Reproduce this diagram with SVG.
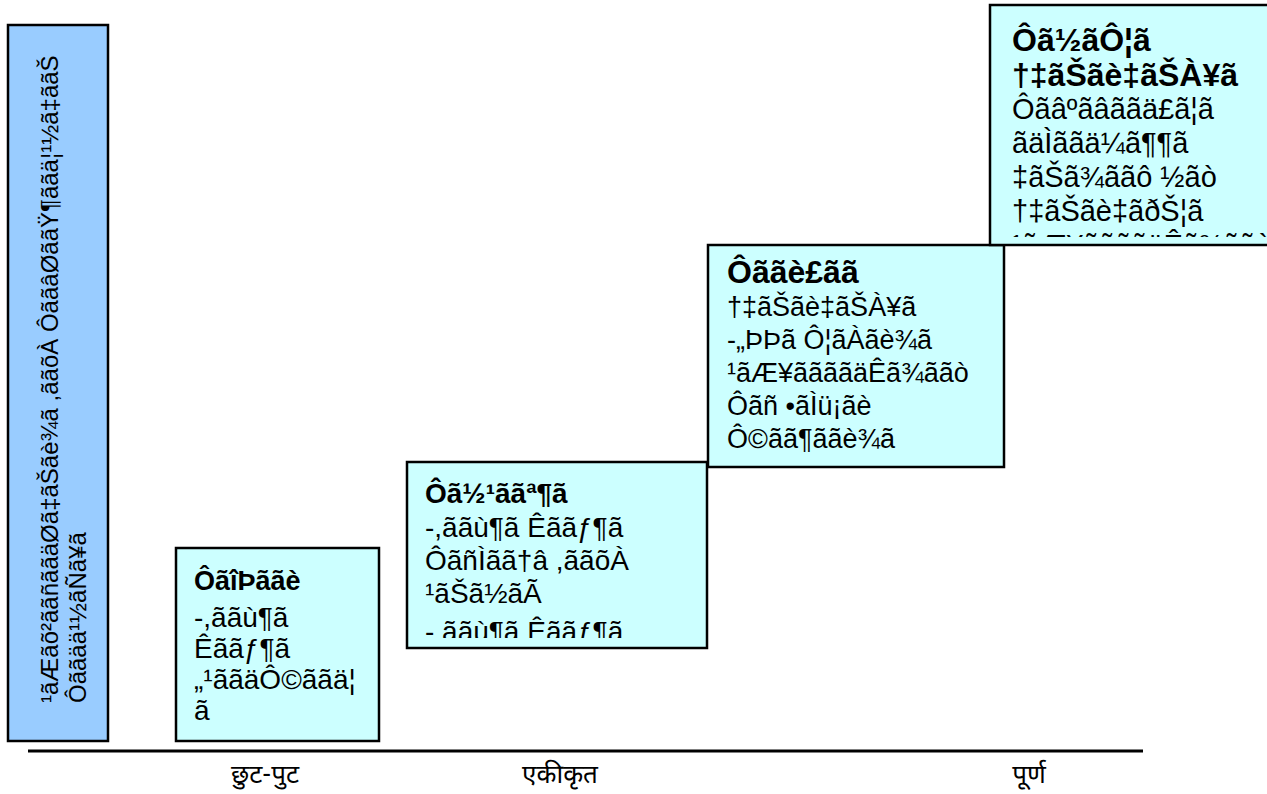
<svg xmlns="http://www.w3.org/2000/svg" width="1267" height="794" viewBox="0 0 1267 794">
<style>
.blue{fill:#99CCFF;stroke:#000;stroke-width:2.5}
.cyan{fill:#CCFFFF;stroke:#000;stroke-width:2.5}
text{font-family:"Liberation Sans",Arial,sans-serif;fill:#000}
.t{font-weight:bold}
.dev{font-family:"Noto Sans Devanagari","Noto Sans",sans-serif;font-size:26px;text-anchor:middle}
</style>
<defs>
<clipPath id="c1"><rect x="178" y="550" width="199" height="189"/></clipPath>
<clipPath id="c2"><rect x="409" y="464" width="296" height="174"/></clipPath>
<clipPath id="c3"><rect x="710" y="247" width="292" height="218"/></clipPath>
<clipPath id="c4"><rect x="992" y="7" width="275" height="230"/></clipPath>
</defs>
<g id="axis">
<line x1="28" y1="751" x2="1143" y2="751" stroke="#000" stroke-width="3"/>
<text class="dev" x="265" y="783">छुट-पुट</text>
<text class="dev" x="560" y="783">एकीकृत</text>
<text class="dev" x="1029" y="783">पूर्ण</text>
</g>
<g id="left">
<rect class="blue" x="8" y="25" width="100" height="716"/>
<g transform="translate(58,703) rotate(-90)" font-size="24">
<text x="0" y="0">¹ãÆãõ²ããñããäØã‡ãŠãè¾ã ,ããõÀ ÔããâØããŸ¶ããä¦¹½ã‡ããŠ</text>
<text x="0" y="28">Ôããää¹½ãÑã¥ã</text>
</g>
</g>
<g id="box1">
<rect class="cyan" x="176" y="548" width="203" height="193"/>
<g clip-path="url(#c1)" font-size="28">
<text class="t" x="194" y="590" font-size="27">ÔãîÞããè</text>
<text x="194" y="627">-,ããù¶ã</text>
<text x="194" y="658">Êããƒ¶ã</text>
<text x="194" y="689">„¹ããäÔ©ããä¦</text>
<text x="194" y="720">ã</text>
</g>
</g>
<g id="box2">
<rect class="cyan" x="407" y="462" width="300" height="186"/>
<g clip-path="url(#c2)" font-size="28">
<text class="t" x="425" y="503">Ôã½¹ããª¶ã</text>
<text x="425" y="537">-,ããù¶ã Êããƒ¶ã</text>
<text x="425" y="570">ÔãñÌãã†â ,ããõÀ</text>
<text x="425" y="603">¹ãŠã½ãÃ</text>
<text x="425" y="641">-,ããù¶ã Êããƒ¶ã</text>
</g>
</g>
<g id="box3">
<rect class="cyan" x="708" y="245" width="296" height="222"/>
<g clip-path="url(#c3)" font-size="27">
<text class="t" x="727" y="283" font-size="32">Ôããè£ãã</text>
<text x="727" y="316">†‡ãŠãè‡ãŠÀ¥ã</text>
<text x="727" y="349">-„ÞÞã Ô¦ãÀãè¾ã</text>
<text x="727" y="382">¹ãÆ¥ããããäÊã¾ããò</text>
<text x="727" y="415">Ôãñ •ãÌü¡ãè</text>
<text x="727" y="448">Ô©ãã¶ããè¾ã</text>
</g>
</g>
<g id="box4">
<rect class="cyan" x="990" y="5" width="290" height="240"/>
<g clip-path="url(#c4)" font-size="29">
<text class="t" x="1012" y="51" font-size="32">Ôã½ãÔ¦ã</text>
<text class="t" x="1012" y="86" font-size="32">†‡ãŠãè‡ãŠÀ¥ã</text>
<text x="1012" y="119">Ôãâºãâããä£ã¦ã</text>
<text x="1012" y="153">ãäÌããä¼ã¶¶ã</text>
<text x="1012" y="187">‡ãŠã¾ããô ½ãò</text>
<text x="1012" y="221">†‡ãŠãè‡ãðŠ¦ã</text>
<text x="1012" y="255">¹ãÆ¥ããããäÊã¾ããò</text>
</g>
</g>
</svg>
